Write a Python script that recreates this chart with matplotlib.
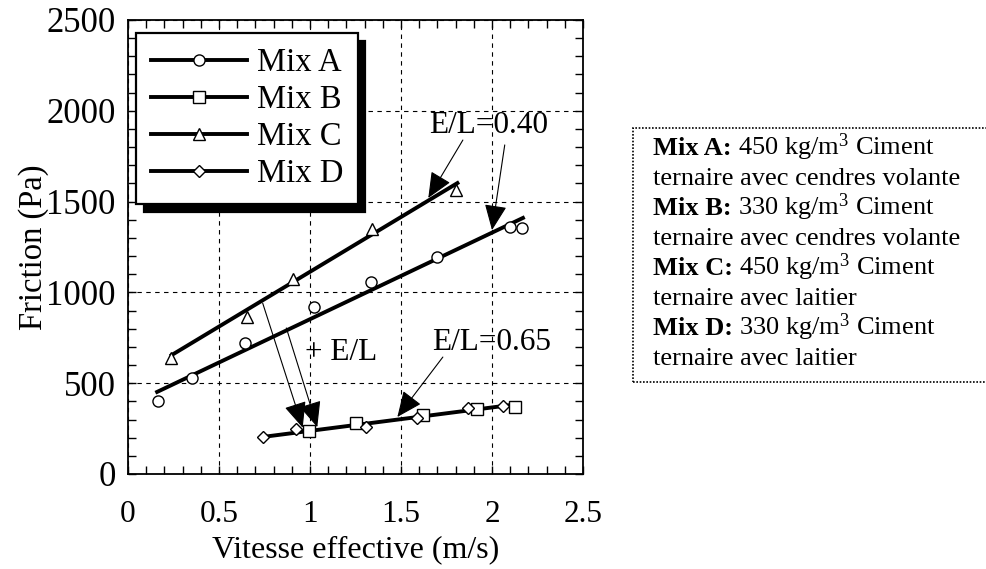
import matplotlib
matplotlib.use("Agg")
import matplotlib.pyplot as plt
from matplotlib.patches import Rectangle
from matplotlib.ticker import MultipleLocator

plt.rcParams['font.family'] = ['Liberation Serif', 'DejaVu Serif']
plt.rcParams['mathtext.fontset'] = 'custom'
plt.rcParams['mathtext.rm'] = 'Liberation Serif'
plt.rcParams['mathtext.default'] = 'regular'

# data
mix_a_x = [0.165, 0.35, 0.643, 1.02, 1.335, 1.70, 2.10, 2.163]
mix_a_y = [402, 529, 721, 918, 1057, 1197, 1362, 1353]
mix_b_x = [0.995, 1.253, 1.62, 1.916, 2.126]
mix_b_y = [237, 283, 325, 356, 367]
mix_c_x = [0.236, 0.654, 0.907, 1.34, 1.80]
mix_c_y = [639, 865, 1074, 1349, 1564]
mix_d_x = [0.74, 0.923, 1.306, 1.59, 1.87, 2.06]
mix_d_y = [202, 248, 261, 310, 365, 376]

# trend lines (end points)
fit_a_x, fit_a_y = [0.16, 2.17], [452, 1410]
fit_c_x, fit_c_y = [0.24, 1.81], [655, 1602]
fit_bd_x, fit_bd_y = [0.74, 2.12], [204, 382]

legend_labels = ["Mix A", "Mix B", "Mix C", "Mix D"]
# (bold head, regular rest) per line of the description box
note_lines = [
    ("Mix A:", "450 kg/m$^3$ Ciment"),
    ("", "ternaire avec cendres volante"),
    ("Mix B:", "330 kg/m$^3$ Ciment"),
    ("", "ternaire avec cendres volante"),
    ("Mix C:", "450 kg/m$^3$ Ciment"),
    ("", "ternaire avec laitier"),
    ("Mix D:", "330 kg/m$^3$ Ciment"),
    ("", "ternaire avec laitier"),
]

W, H = 986, 569
fig = plt.figure(figsize=(W / 100, H / 100), dpi=100)
ax = fig.add_axes([128 / W, 1 - 474 / H, 455 / W, 454 / H])

ax.set_xlim(0, 2.5)
ax.set_ylim(0, 2500)
ax.xaxis.set_major_locator(MultipleLocator(0.5))
ax.xaxis.set_minor_locator(MultipleLocator(0.1))
ax.yaxis.set_major_locator(MultipleLocator(500))
ax.yaxis.set_minor_locator(MultipleLocator(100))
ax.set_xticks([0, 0.5, 1, 1.5, 2, 2.5], ["0", "0.5", "1", "1.5", "2", "2.5"])
ax.tick_params(which='both', direction='in', top=True, right=True,
               length=6, width=1)
ax.tick_params(axis='y', labelsize=25, pad=9)
ax.tick_params(axis='x', labelsize=22.5, pad=19)
for s in ax.spines.values():
    s.set_linewidth(1.3)
ax.grid(True, which='major', color='k', lw=0.8, ls=(0, (4, 4)))
ax.set_axisbelow(True)

ax.set_xlabel("Vitesse effective (m/s)", fontsize=23, labelpad=4)
ax.set_ylabel("Friction (Pa)", fontsize=23.5, labelpad=-2)

# trend lines
lw = 2.8
ax.plot(fit_a_x, fit_a_y, color='k', lw=lw, zorder=3)
ax.plot(fit_c_x, fit_c_y, color='k', lw=lw, zorder=3)
ax.plot(fit_bd_x, fit_bd_y, color='k', lw=lw, zorder=3)

mk = dict(ls='none', mfc='white', mec='k', mew=1, zorder=4)
ax.plot(mix_a_x, mix_a_y, marker='o', ms=8, **mk)
ax.plot(mix_b_x, mix_b_y, marker='s', ms=9, **mk)
ax.plot(mix_c_x, mix_c_y, marker='^', ms=8.5, **mk)
ax.plot(mix_d_x, mix_d_y, marker='D', ms=6.5, **mk)

# legend handles: line with marker
handles = []
for m, ms in zip(['o', 's', '^', 'D'], [8, 9, 8.5, 6.5]):
    h, = ax.plot([], [], color='k', lw=2.8, marker=m, ms=ms, mfc='white',
                 mec='k', mew=1)
    handles.append(h)
leg = ax.legend(handles, legend_labels, loc='upper left',
                bbox_to_anchor=(0.0176, 0.971), borderaxespad=0,
                fontsize=23.5, handlelength=2.95, handletextpad=0.3,
                borderpad=0.45, labelspacing=0.2, fancybox=False,
                framealpha=1, edgecolor='k', markerscale=1, numpoints=1,
                shadow={'color': 'black', 'alpha': 1, 'ox': 5.5, 'oy': -5.5})
leg.get_frame().set_linewidth(1.6)

# annotations
arrow = dict(arrowstyle='-|>,head_length=0.8,head_width=0.35', color='k',
             lw=0.8, shrinkA=0, shrinkB=0, mutation_scale=20)
ax.text(1.98, 1878, "E/L=0.40", fontsize=22.5, ha='center', va='baseline')
ax.annotate("", xy=(1.65, 1520), xytext=(1.84, 1839), arrowprops=arrow)
ax.annotate("", xy=(2.0, 1343), xytext=(2.07, 1812), arrowprops=arrow)

ax.text(2.0, 683, "E/L=0.65", fontsize=22.5, ha='center', va='baseline')
ax.annotate("", xy=(1.48, 314), xytext=(1.73, 644), arrowprops=arrow)

ax.text(1.17, 628, "+ E/L", fontsize=22.5, ha='center', va='baseline')
ax.annotate("", xy=(0.96, 255), xytext=(0.74, 941), arrowprops=arrow)
ax.annotate("", xy=(1.04, 258), xytext=(0.87, 804), arrowprops=arrow)

# description box on the right
fig.patches.append(Rectangle((633 / W, 1 - 382 / H), 380 / W, 254 / H,
                             transform=fig.transFigure, fill=False,
                             ec='k', lw=1.2, ls=(0, (1, 1))))
renderer = fig.canvas.get_renderer()
x0 = 653
for i, (head, rest) in enumerate(note_lines):
    y = 1 - (155 + 30 * i) / H
    x = x0
    if head:
        t = fig.text(x / W, y, head, fontsize=19, weight='bold',
                     ha='left', va='baseline')
        x = t.get_window_extent(renderer).x1 + 6
    fig.text(x / W, y, rest, fontsize=19, ha='left', va='baseline')

fig.savefig("out.png", dpi=100)
